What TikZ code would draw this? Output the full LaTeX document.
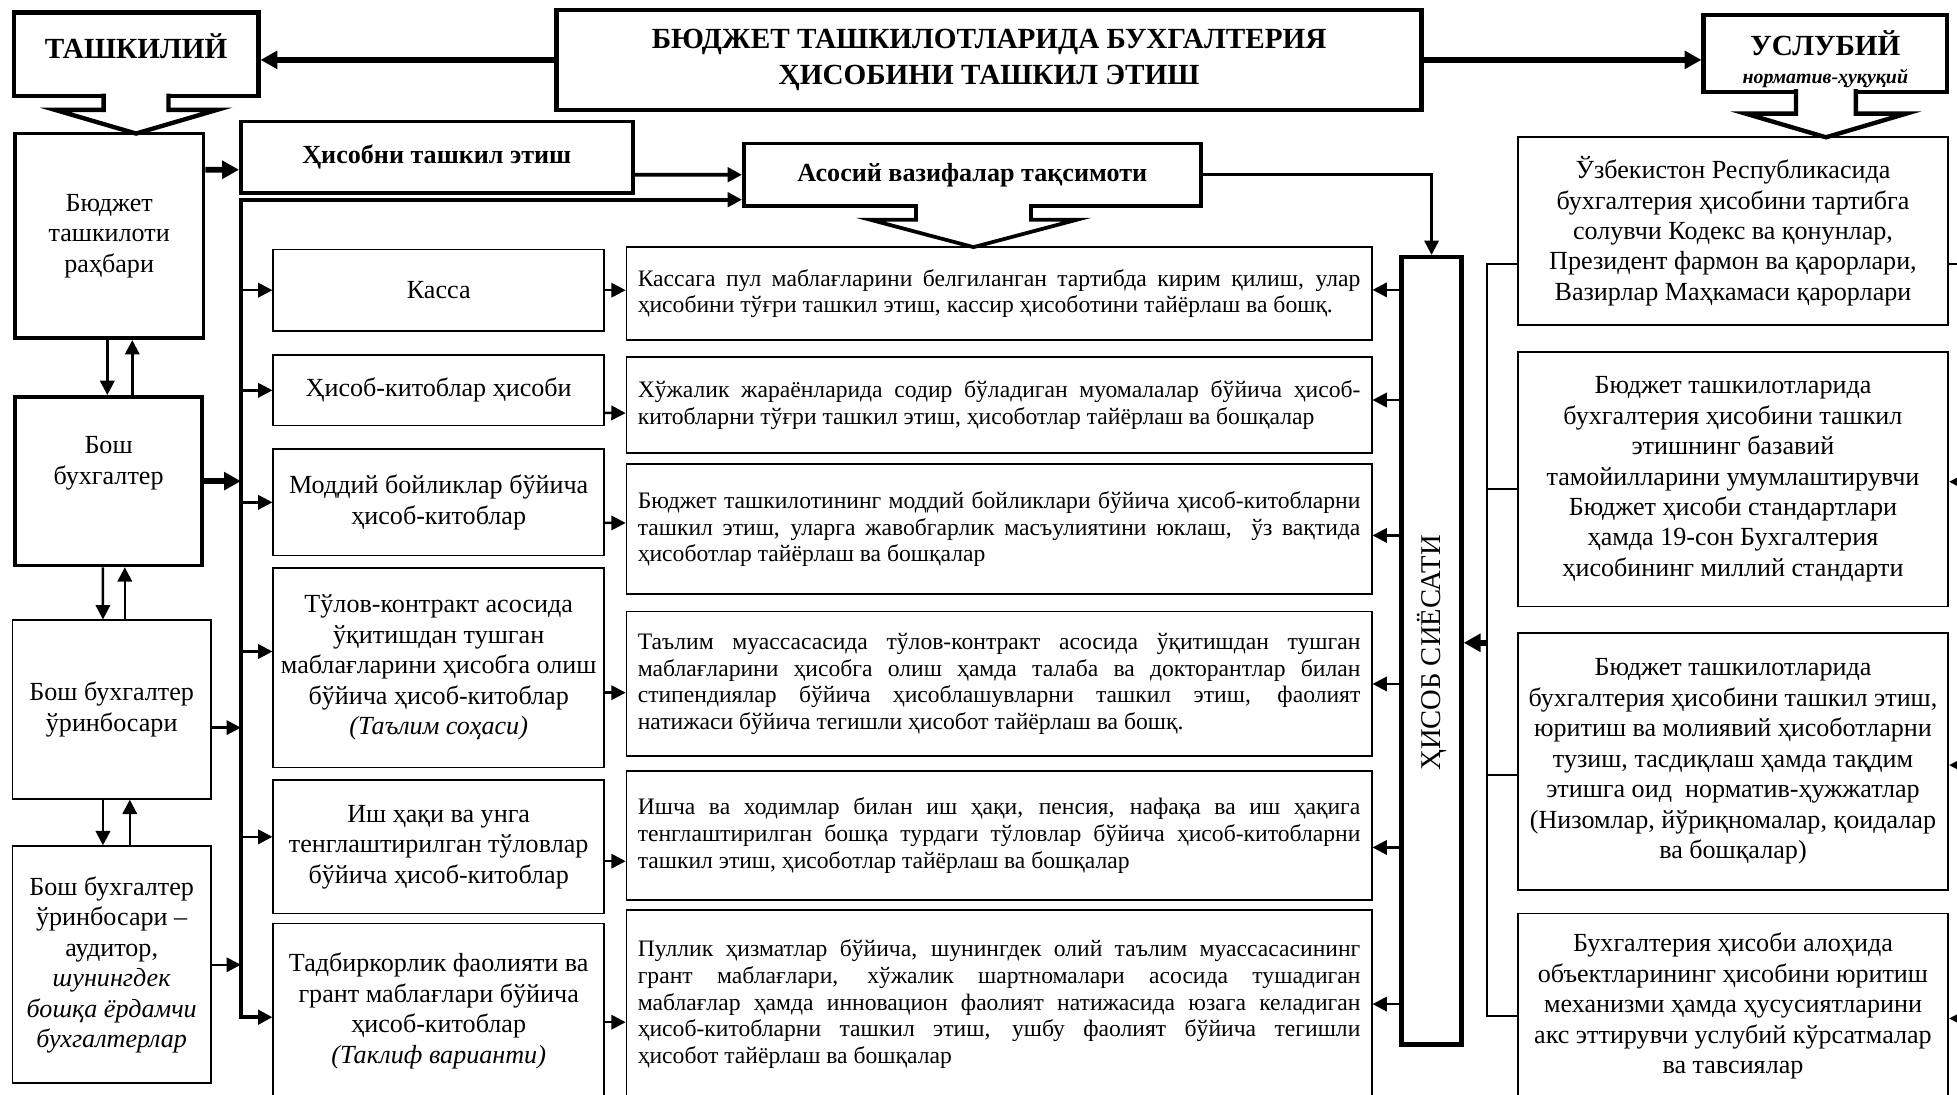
\documentclass[tikz,border=0pt]{standalone}
\usepackage{fontspec}
\setmainfont{Liberation Serif}
\usetikzlibrary{arrows.meta}
\newcommand{\boxfont}{\fontsize{21}{24.5}\selectfont}
\newcommand{\descfont}{\fontsize{19}{21.6}\selectfont\hyphenpenalty=10000\exhyphenpenalty=10000\tolerance=9999}
\newcommand{\headfont}{\fontsize{23.5}{29}\selectfont\bfseries}
\newcommand{\boldfont}{\fontsize{21}{24.5}\selectfont\bfseries}
\newcommand{\smallit}{\fontsize{16}{18}\selectfont\itshape}
\newcommand{\siyfont}{\fontsize{23}{27}\selectfont}
\tikzset{
  headbox/.style={draw,line width=3.5bp,inner sep=0bp,align=center,font=\headfont},
  thickbox/.style={draw,line width=3bp,inner sep=0bp,align=center,font=\boxfont},
  thinbox/.style={draw,line width=1.4bp,inner sep=0bp,align=center,font=\boxfont},
  descbox/.style={draw,line width=1.4bp,inner xsep=9bp,inner ysep=0bp,text width=579bp,align=justify,font=\descfont},
  pointer/.style={line width=3.5bp,fill=white},
  arr/.style={->,line width=2bp},
  midarr/.style={->,line width=3bp},
  bigarr/.style={-{Triangle[length=13.5bp,width=14bp]},line width=4.5bp},
  busline/.style={<->,line width=3.5bp},
  rline/.style={line width=1.8bp}
}

\begin{document}
\begin{tikzpicture}[>={Triangle[length=11.5bp,width=11.5bp]}]
\useasboundingbox (0bp,0bp) rectangle (1568bp,-877bp);
\clip (0bp,0bp) rectangle (1568bp,-877bp);

\node (title) at (792.5bp,-48bp)[headbox,minimum width=693bp,minimum height=80bp] {БЮДЖЕТ ТАШКИЛОТЛАРИДА БУХГАЛТЕРИЯ\\ҲИСОБИНИ ТАШКИЛ ЭТИШ};
\node (tash) at (109bp,-43.5bp)[headbox,minimum width=196bp,minimum height=67bp] {};
\node (tashtext) at (109bp,-37bp)[font=\headfont] {ТАШКИЛИЙ};
\node (usl) at (1462.5bp,-43bp)[headbox,minimum width=195bp,minimum height=61.5bp] {};
\node (usltext) at (1462.5bp,-47.5bp)[font=\headfont,align=center] {УСЛУБИЙ\\[-6bp]{\smallit норматив-ҳуқуқий}};
\draw[pointer] (83bp,-75bp) -- (83bp,-88bp) -- (44bp,-88bp) -- (109bp,-107bp) -- (174bp,-88bp) -- (135bp,-88bp) -- (135bp,-75bp);
\draw[pointer] (1439bp,-71.5bp) -- (1439bp,-91bp) -- (1398.5bp,-91bp) -- (1463bp,-110bp) -- (1527.5bp,-91bp) -- (1487bp,-91bp) -- (1487bp,-71.5bp);

\node (rahbar) at (87.5bp,-189bp)[thickbox,minimum width=151bp,minimum height=164bp] {Бюджет\\ташкилоти\\раҳбари};
\node (bosh) at (87bp,-385.5bp)[thickbox,minimum width=150bp,minimum height=135bp] {};
\node (boshtext) at (87bp,-371bp)[font=\boxfont,align=center] {Бош\\бухгалтер};
\node (urin) at (89.5bp,-568.5bp)[thinbox,minimum width=159bp,minimum height=143bp] {Бош бухгалтер\\ўринбосари};
\node (audit) at (89.5bp,-773bp)[thinbox,minimum width=159bp,minimum height=190bp] {Бош бухгалтер\\ўринбосари –\\аудитор,\\\textit{шунингдек}\\\textit{бошқа ёрдамчи}\\\textit{бухгалтерлар}};

\node (hisobni) at (350bp,-126bp)[thickbox,font=\boldfont,minimum width=314bp,minimum height=57.5bp] {Ҳисобни ташкил этиш};
\node (asosiy) at (779bp,-140bp)[thickbox,font=\boldfont,minimum width=366bp,minimum height=50bp] {Асосий вазифалар тақсимоти};
\draw[pointer,line width=3bp] (734bp,-163.5bp) -- (734bp,-176bp) -- (697bp,-176bp) -- (780bp,-198bp) -- (863bp,-176bp) -- (826bp,-176bp) -- (826bp,-163.5bp);

\node (kassa) at (351.5bp,-232.5bp)[thinbox,minimum width=265bp,minimum height=65bp] {Касса};
\node (hisobkitob) at (351.5bp,-312.75bp)[thinbox,minimum width=265bp,minimum height=56.5bp] {Ҳисоб-китоблар ҳисоби};
\node (moddiy) at (351.5bp,-402.5bp)[thinbox,minimum width=265bp,minimum height=85bp] {Моддий бойликлар бўйича\\ҳисоб-китоблар};
\node (tulov) at (351.5bp,-535bp)[thinbox,minimum width=265bp,minimum height=160bp] {Тўлов-контракт асосида\\ўқитишдан тушган\\маблағларини ҳисобга олиш\\бўйича ҳисоб-китоблар\\\textit{(Таълим соҳаси)}};
\node (ishhaqi) at (351.5bp,-678.5bp)[thinbox,minimum width=265bp,minimum height=107bp] {Иш ҳақи ва унга\\тенглаштирилган тўловлар\\бўйича ҳисоб-китоблар};
\node (tadbir) at (351.5bp,-810bp)[thinbox,minimum width=265bp,minimum height=140bp] {Тадбиркорлик фаолияти ва\\грант маблағлари бўйича\\ҳисоб-китоблар\\\textit{(Таклиф варианти)}};

\node (d1) at (800.5bp,-235.25bp)[descbox,minimum height=74.5bp] {Кассага пул маблағларини белгиланган тартибда кирим қилиш, улар\linebreak ҳисобини тўғри ташкил этиш, кассир ҳисоботини тайёрлаш ва бошқ.};
\node (d2) at (800.5bp,-324.5bp)[descbox,minimum height=77bp] {Хўжалик жараёнларида содир бўладиган муомалалар бўйича ҳисоб-\linebreak китобларни тўғри ташкил этиш, ҳисоботлар тайёрлаш ва бошқалар};
\node (d3) at (800.5bp,-424bp)[descbox,minimum height=104bp] {Бюджет ташкилотининг моддий бойликлари бўйича ҳисоб-китобларни\linebreak ташкил этиш, уларга жавобгарлик масъулиятини юклаш,\ \ ўз вақтида\linebreak ҳисоботлар тайёрлаш ва бошқалар};
\node (d4) at (800.5bp,-548bp)[descbox,minimum height=116bp] {Таълим муассасасида тўлов-контракт асосида ўқитишдан тушган\linebreak маблағларини ҳисобга олиш ҳамда талаба ва докторантлар билан\linebreak стипендиялар бўйича ҳисоблашувларни ташкил этиш, фаолият\linebreak натижаси бўйича тегишли ҳисобот тайёрлаш ва бошқ.};
\node (d5) at (800.5bp,-669.5bp)[descbox,minimum height=103bp] {Ишча ва ходимлар билан иш ҳақи, пенсия, нафақа ва иш ҳақига\linebreak тенглаштирилган бошқа турдаги тўловлар бўйича ҳисоб-китобларни\linebreak ташкил этиш, ҳисоботлар тайёрлаш ва бошқалар};
\node (d6) at (800.5bp,-804.5bp)[descbox,minimum height=151bp] {Пуллик ҳизматлар бўйича, шунингдек олий таълим муассасасининг\linebreak грант маблағлари, хўжалик шартномалари асосида тушадиган\linebreak маблағлар ҳамда инновацион фаолият натижасида юзага келадиган\linebreak ҳисоб-китобларни ташкил этиш, ушбу фаолият бўйича тегишли\linebreak ҳисобот тайёрлаш ва бошқалар};

\node (hisobsiy) at (1147bp,-521.5bp)[thickbox,line width=3.5bp,minimum width=48bp,minimum height=631bp] {};
\node (hisobsiytext) at (1147bp,-523bp)[rotate=90,font=\siyfont] {ҲИСОБ СИЁСАТИ};

\node (r1) at (1388.5bp,-185.25bp)[thinbox,minimum width=345bp,minimum height=150.5bp] {Ўзбекистон Республикасида\\бухгалтерия ҳисобини тартибга\\солувчи Кодекс ва қонунлар,\\Президент фармон ва қарорлари,\\Вазирлар Маҳкамаси қарорлари};
\node (r2) at (1388.5bp,-384bp)[thinbox,minimum width=345bp,minimum height=204bp] {Бюджет ташкилотларида\\бухгалтерия ҳисобини ташкил\\этишнинг базавий\\тамойилларини умумлаштирувчи\\Бюджет ҳисоби стандартлари\\ҳамда 19-сон Бухгалтерия\\ҳисобининг миллий стандарти};
\node (r3) at (1388.5bp,-610bp)[thinbox,minimum width=345bp,minimum height=206bp] {Бюджет ташкилотларида\\бухгалтерия ҳисобини ташкил этиш,\\юритиш ва молиявий ҳисоботларни\\тузиш, тасдиқлаш ҳамда тақдим\\этишга оид\ \ норматив-ҳужжатлар\\(Низомлар, йўриқномалар, қоидалар\\ва бошқалар)};
\node (r4) at (1388.5bp,-806bp)[thinbox,minimum width=345bp,minimum height=148bp] {Бухгалтерия ҳисоби алоҳида\\объектларининг ҳисобини юритиш\\механизми ҳамда ҳусусиятларини\\акс эттирувчи услубий кўрсатмалар\\ва тавсиялар};

\coordinate (bustop) at (193bp,-160bp);
\coordinate (busbot) at (193bp,-815bp);
\coordinate (rbus) at (1191.5bp,-515bp);
\coordinate (redge) at (1580bp,0bp);

\draw[bigarr] (title.west) -- (title.west -| tash.east);
\draw[bigarr] (title.east) -- (title.east -| usl.west);
\draw[bigarr] ([yshift=53bp]rahbar.east) -- ([yshift=-10bp]hisobni.west);
\draw[midarr] ([yshift=-14bp]hisobni.east) -- (asosiy.west);
\draw[busline] (tadbir.west |- busbot) -- (busbot) -- (bustop) -- (asosiy.west |- bustop);
\draw[arr] (kassa.west -| bustop) -- (kassa.west);
\draw[arr] (hisobkitob.west -| bustop) -- (hisobkitob.west);
\draw[arr] (moddiy.west -| bustop) -- (moddiy.west);
\draw[arr] ([yshift=13bp]tulov.west -| bustop) -- ([yshift=13bp]tulov.west);
\draw[arr] ([yshift=8bp]ishhaqi.west -| bustop) -- ([yshift=8bp]ishhaqi.west);
\draw[bigarr] (bosh.east) -- (bosh.east -| bustop);
\draw[arr] ([yshift=-14.5bp]urin.east) -- ([yshift=-14.5bp]urin.east -| bustop);
\draw[arr] (audit.east) -- (audit.east -| bustop);

\draw[arr] ([xshift=-1.5bp]rahbar.south) -- ([xshift=-1bp]bosh.north);
\draw[arr] ([xshift=19bp]bosh.north) -- ([xshift=18.5bp]rahbar.south);
\draw[arr] ([xshift=-4.5bp]bosh.south) -- ([xshift=-7bp]urin.north);
\draw[arr] ([xshift=10.5bp]urin.north) -- ([xshift=13bp]bosh.south);
\draw[arr] ([xshift=-7bp]urin.south) -- ([xshift=-7bp]audit.north);
\draw[arr] ([xshift=14.5bp]audit.north) -- ([xshift=14.5bp]urin.south);

\draw[arr] (kassa.east) -- (kassa.east -| d1.west);
\draw[arr] ([yshift=-18bp]hisobkitob.east) -- ([yshift=-6.5bp]d2.west);
\draw[arr] ([yshift=-16.5bp]moddiy.east) -- ([yshift=5bp]d3.west);
\draw[arr] ([yshift=-20bp]tulov.east) -- ([yshift=-7bp]d4.west);
\draw[arr] ([yshift=-11.5bp]ishhaqi.east) -- ([yshift=-20.5bp]d5.west);
\draw[arr] ([yshift=-9bp]tadbir.east) -- ([yshift=-14.5bp]d6.west);

\draw[arr] (asosiy.east) -| (hisobsiy.north);
\draw[arr] ([yshift=3bp]d1.east -| hisobsiy.west) -- ([yshift=3bp]d1.east);
\draw[arr] ([yshift=4bp]d2.east -| hisobsiy.west) -- ([yshift=4bp]d2.east);
\draw[arr] ([yshift=-5bp]d3.east -| hisobsiy.west) -- ([yshift=-5bp]d3.east);
\draw[arr] (d4.east -| hisobsiy.west) -- (d4.east);
\draw[arr] ([yshift=-9.5bp]d5.east -| hisobsiy.west) -- ([yshift=-9.5bp]d5.east);
\draw[arr] (d6.east -| hisobsiy.west) -- (d6.east);

\draw[rline] ([yshift=-26bp]r1.west) -| (rbus);
\draw[rline] ([yshift=-8bp]r4.west) -| (rbus);
\draw[rline] ([yshift=-8bp]r2.west) -- ([yshift=-8bp]r2.west -| rbus);
\draw[rline] ([yshift=-11bp]r3.west) -- ([yshift=-11bp]r3.west -| rbus);
\draw[bigarr] (rbus) -- (rbus -| hisobsiy.east);

\draw[rline] ([yshift=-26bp]r1.east) -- ([yshift=-26bp]r1.east -| redge);
\draw[arr,line width=1.8bp] ([yshift=-2bp]r2.east -| redge) -- ([yshift=-2bp]r2.east);
\draw[arr,line width=1.8bp] ([yshift=-3bp]r3.east -| redge) -- ([yshift=-3bp]r3.east);
\draw[arr,line width=1.8bp] ([yshift=-10bp]r4.east -| redge) -- ([yshift=-10bp]r4.east);
\end{tikzpicture}
\end{document}
